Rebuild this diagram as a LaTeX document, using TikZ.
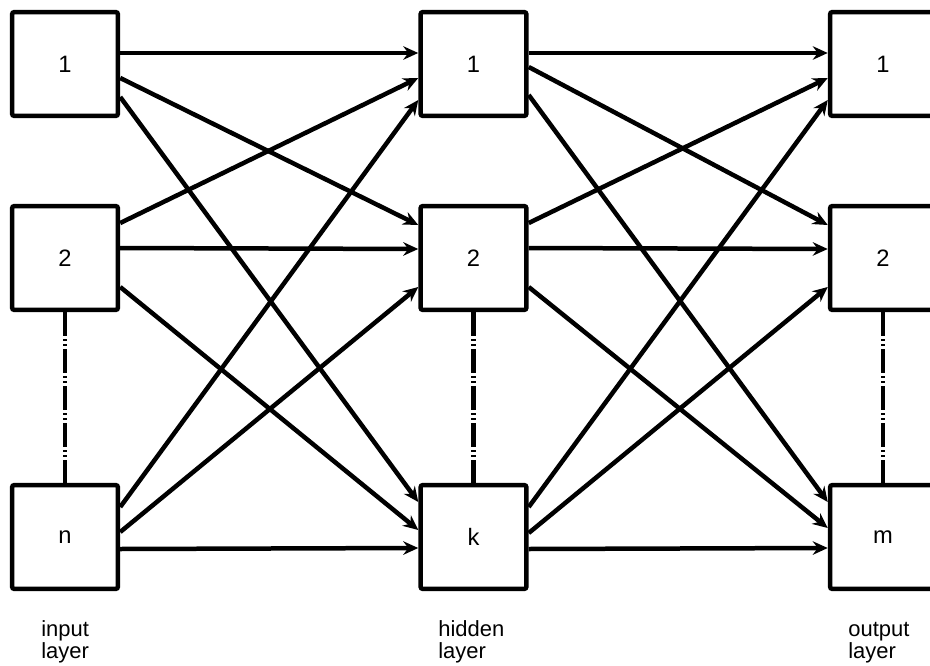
\documentclass[tikz,border=0pt]{standalone}
\usepackage{fontspec}
\setmainfont{Liberation Sans}
\usetikzlibrary{arrows.meta}
\tikzset{>={Stealth[length=3mm,width=2.7mm,inset=1mm]}}
\tikzset{unit/.style={draw, line width=0.09cm, rounded corners=0.5mm,
    minimum width=2.12cm, minimum height=2.08cm, inner sep=0pt,
    font=\fontsize{13.5}{15}\selectfont}}
\tikzset{link/.style={->, line width=0.09cm}}
\tikzset{gap/.style={line width=0.09cm,
    dash pattern=on 0.48cm off 0.06cm on 0.04cm off 0.06cm on 0.04cm off 0.06cm}}
\tikzset{caption/.style={align=left, anchor=base west, inner sep=0pt,
    font=\fontsize{12.5}{12}\selectfont}}

\begin{document}
\begin{tikzpicture}[x=0.02cm, y=-0.02cm]
    \useasboundingbox (0,0) rectangle (930,666);
    \clip (0,0) rectangle (930,666);
    % input layer
    \node[unit] (in1) at (65,64) {1};
    \node[unit] (in2) at (65,258) {2};
    \node[unit] (inn) at (65,537) {n};
    % hidden layer
    \node[unit] (hid1) at (473.5,64) {1};
    \node[unit] (hid2) at (473.5,258) {2};
    \node[unit] (hidk) at (473.5,537) {k};
    % output layer
    \node[unit] (out1) at (883,64) {1};
    \node[unit] (out2) at (883,258) {2};
    \node[unit] (outm) at (883,537) {m};
    % skipped units
    \draw[gap] (in2.south) -- (inn.north);
    \draw[gap] (hid2.south) -- (hidk.north);
    \draw[gap] (out2.south) -- (outm.north);
    % input -> hidden
    \foreach \from/\a/\to/\b in {in1/11/hid1/11, in1/-14/hid2/33, in1/-33/hidk/35,
        in2/35/hid1/-14, in2/10/hid2/9, in2/-29/hidk/7,
        inn/30/hid1/-36, inn/5/hid2/-29, inn/-12/hidk/-11}
    {\draw[link] ([yshift=\a*0.02cm]\from.east) -- ([yshift=\b*0.02cm]\to.west);}
    % hidden -> output
    \foreach \from/\a/\to/\b in {hid1/11/out1/11, hid1/-3/out2/33, hid1/-31/outm/35,
        hid2/35/out1/-14, hid2/10/out2/9, hid2/-29/outm/9,
        hidk/30/out1/-36, hidk/4/out2/-29, hidk/-12/outm/-11}
    {\draw[link] ([yshift=\a*0.02cm]\from.east) -- ([yshift=\b*0.02cm]\to.west);}
    % layer names
    \node[caption] (lin) at (41,658) {input\\layer};
    \node[caption] (lhid) at (438,658) {hidden\\layer};
    \node[caption] (lout) at (848,658) {output\\layer};
\end{tikzpicture}
\end{document}
